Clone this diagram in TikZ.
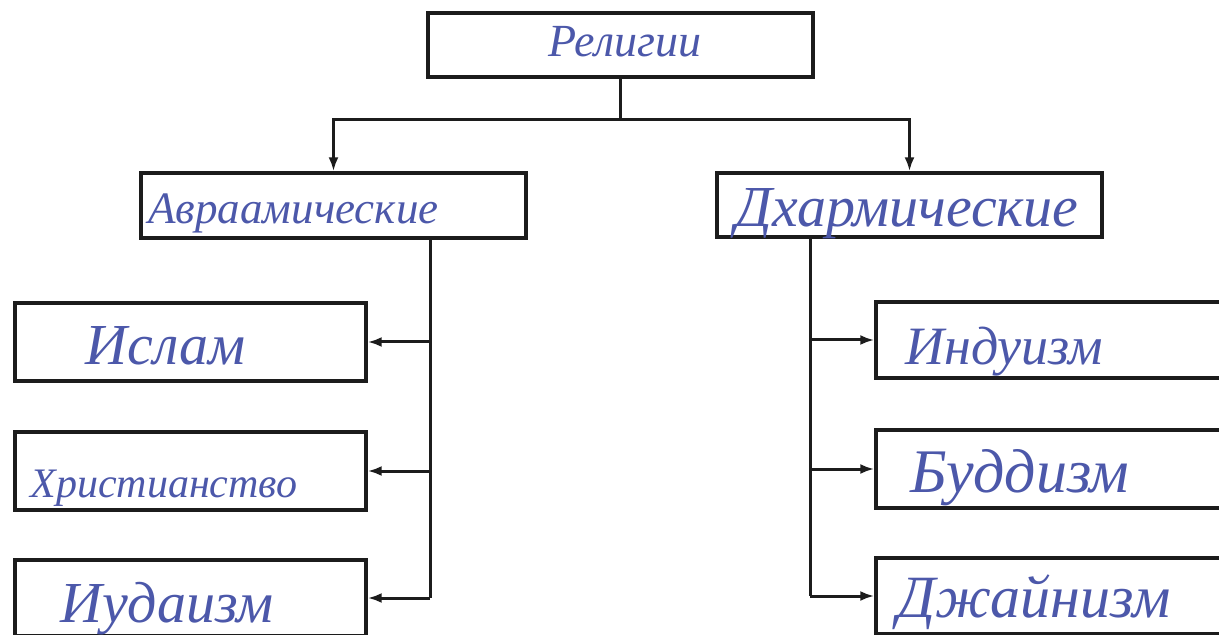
\documentclass[tikz,border=0pt]{standalone}
\usepackage{fontspec}
\setmainfont{Liberation Serif}
\usetikzlibrary{arrows.meta}
\definecolor{ink}{RGB}{76,88,170}
\definecolor{linec}{RGB}{28,28,28}
\newcommand{\hfs}[1]{\fontsize{#1}{#1}\selectfont\itshape}
\begin{document}
\begin{tikzpicture}[x=0.5pt,y=-0.5pt,
  box/.style={draw=linec, line width=1.7pt, rectangle, inner sep=0pt},
  hand/.style={text=ink, anchor=base west, inner sep=0pt},
  ln/.style={draw=linec, line width=1.5pt},
  arr/.style={draw=linec, line width=1.5pt, -{Latex[length=7pt,width=5pt]}}]
\useasboundingbox (0,0) rectangle (1219,635);
\clip (0,0) rectangle (1219,635);
\fill[white] (0,0) rectangle (1219,635);
% boxes
\node[box, minimum width=192.5pt, minimum height=32pt] (top) at (620.5,45) {};
\node[box, minimum width=192.5pt, minimum height=32.5pt] (abr) at (333.5,205.5) {};
\node[box, minimum width=192.5pt, minimum height=32pt] (dh) at (909.5,205) {};
\node[box, minimum width=175.5pt, minimum height=39pt] (isl) at (190.5,342) {};
\node[box, minimum width=175.5pt, minimum height=39pt] (chr) at (190.5,471) {};
\node[box, minimum width=175.5pt, minimum height=38pt] (iud) at (190.5,598) {};
\node[box, minimum width=180pt, minimum height=38pt] (ind) at (1056,340) {};
\node[box, minimum width=180pt, minimum height=39pt] (bud) at (1056,469) {};
\node[box, minimum width=180pt, minimum height=38pt] (jai) at (1056,596) {};
% texts
\node[hand, font=\hfs{23}] (tTop) at (548,57) {Религии};
\node[hand, font=\hfs{22.5}] (tAbr) at (148,224) {Авраамические};
\node[hand, font=\hfs{29}] (tDh) at (735,227) {Дхармические};
\node[hand, font=\hfs{29}] (tIsl) at (85,365) {Ислам};
\node[hand, font=\hfs{21}] (tChr) at (30,497) {Христианство};
\node[hand, font=\hfs{29}] (tIud) at (60,622) {Иудаизм};
\node[hand, font=\hfs{27}] (tInd) at (905,365) {Индуизм};
\node[hand, font=\hfs{31}] (tBud) at (910,492) {Буддизм};
\node[hand, font=\hfs{30}] (tJai) at (897,617) {Джайнизм};
% connectors
\coordinate (jn) at (620.5,120);
\coordinate (tL) at (430,0);
\coordinate (tR) at (810,0);
\draw[ln] (top.south) -- (jn);
\draw[arr] (jn) -| (abr.north);
\draw[arr] (jn) -| (dh.north);
\draw[ln] (abr.south -| tL) -- (iud.east -| tL);
\draw[arr] (isl.east -| tL) -- (isl.east);
\draw[arr] (chr.east -| tL) -- (chr.east);
\draw[arr] (iud.east -| tL) -- (iud.east);
\draw[ln] (dh.south -| tR) -- (jai.west -| tR);
\draw[arr] (ind.west -| tR) -- (ind.west);
\draw[arr] (bud.west -| tR) -- (bud.west);
\draw[arr] (jai.west -| tR) -- (jai.west);
\end{tikzpicture}
\end{document}
